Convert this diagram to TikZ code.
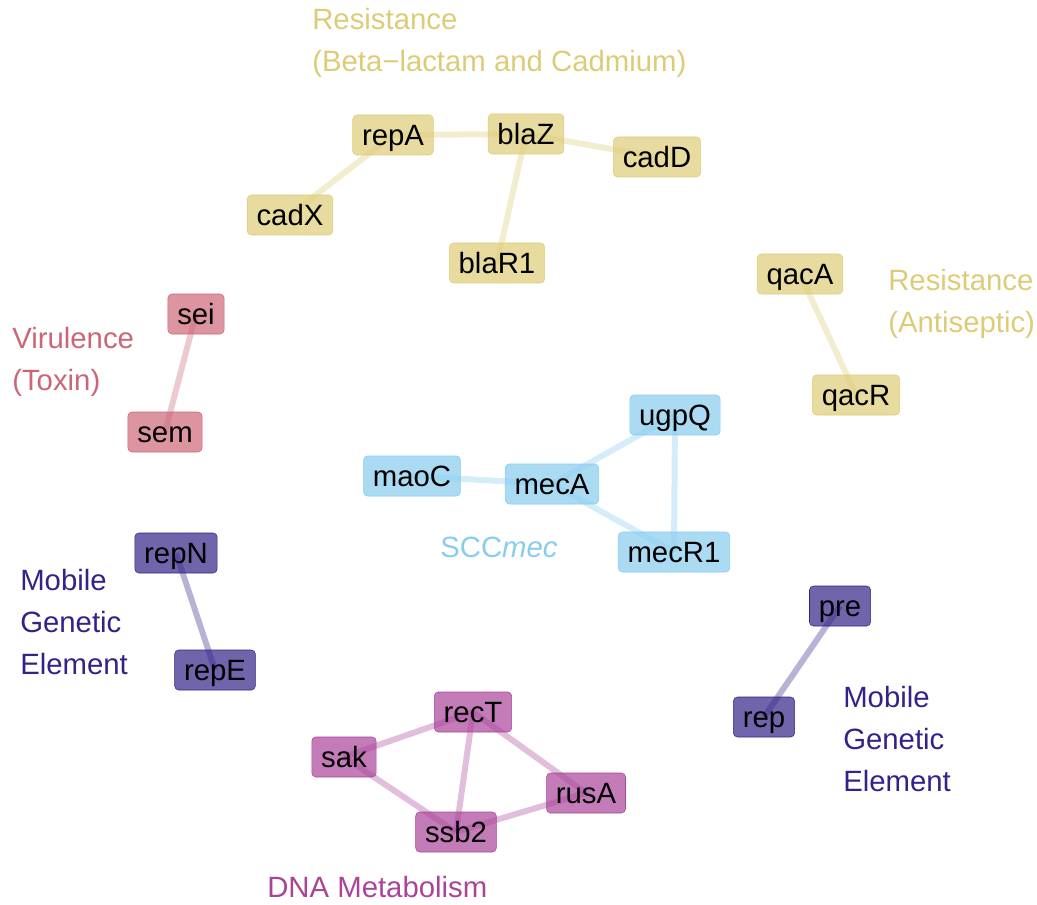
\documentclass[tikz,border=0pt]{standalone}
\usepackage{fontspec}
\setmainfont{Liberation Sans}
\setsansfont{Liberation Sans}
\usepackage{xcolor}
\definecolor{sandCol}{HTML}{DDCC77}
\definecolor{roseCol}{HTML}{CC6677}
\definecolor{cyanCol}{HTML}{88CCEE}
\definecolor{indigoCol}{HTML}{332288}
\definecolor{purpleCol}{HTML}{AA4499}
\usepackage{tikz}
\usetikzlibrary{backgrounds}
\tikzset{
    gene/.style={
        draw=#1,
        fill=#1,
        fill opacity=0.7,
        text opacity=1,
        rectangle,
        rounded corners=3pt,
        thin,
        minimum height=30pt,
        inner xsep=7pt,
        inner ysep=2pt,
        text height=17pt,
        text depth=1pt,
        font=\fontsize{22}{26}\selectfont,
        text=black
    },
    link/.style={
        line width=4.5pt,
        draw=#1,
        draw opacity=0.35
    },
    grouplabel/.style={
        anchor=base west,
        align=left,
        inner sep=0pt,
        text=#1,
        font=\fontsize{22}{31.5}\selectfont
    }
}

\begin{document}
\begin{tikzpicture}[x=0.75pt,y=-0.75pt]
    \useasboundingbox (0,0) rectangle (1037,905);

    % Resistance (Beta-lactam and Cadmium)
    \node[gene=sandCol] (repA) at (393,135) {repA};
    \node[gene=sandCol] (blaZ) at (526,134) {blaZ};
    \node[gene=sandCol] (cadD) at (657,157) {cadD};
    \node[gene=sandCol] (cadX) at (290,215) {cadX};
    \node[gene=sandCol] (blaR1) at (497,263) {blaR1};
    \node[grouplabel=sandCol] (lblBeta) at (312,72) {Resistance\\(Beta−lactam and Cadmium)};

    % Resistance (Antiseptic)
    \node[gene=sandCol] (qacA) at (800,274) {qacA};
    \node[gene=sandCol] (qacR) at (856,395) {qacR};
    \node[grouplabel=sandCol] (lblAnti) at (888,332) {Resistance\\(Antiseptic)};

    % Virulence (Toxin)
    \node[gene=roseCol] (sei) at (196,314) {sei};
    \node[gene=roseCol] (sem) at (165,432) {sem};
    \node[grouplabel=roseCol] (lblTox) at (12,390) {Virulence\\(Toxin)};

    % SCCmec
    \node[gene=cyanCol] (ugpQ) at (675,415) {ugpQ};
    \node[gene=cyanCol] (maoC) at (412,476) {maoC};
    \node[gene=cyanCol] (mecA) at (552,484) {mecA};
    \node[gene=cyanCol] (mecR1) at (674,552) {mecR1};
    \node[grouplabel=cyanCol] (lblScc) at (440,557) {SCC\textit{mec}};

    % Mobile genetic elements
    \node[gene=indigoCol] (repN) at (176,553) {repN};
    \node[gene=indigoCol] (repE) at (215,670) {repE};
    \node[grouplabel=indigoCol] (lblMgeA) at (20,674) {Mobile\\Genetic\\Element};
    \node[gene=indigoCol] (pre) at (840,606) {pre};
    \node[gene=indigoCol] (rep) at (764,717) {rep};
    \node[grouplabel=indigoCol] (lblMgeB) at (843,791) {Mobile\\Genetic\\Element};

    % DNA metabolism
    \node[gene=purpleCol] (recT) at (473,712) {recT};
    \node[gene=purpleCol] (sak) at (344,757) {sak};
    \node[gene=purpleCol] (rusA) at (586,793) {rusA};
    \node[gene=purpleCol] (ssb2) at (456,832) {ssb2};
    \node[grouplabel=purpleCol] (lblDna) at (267,897) {DNA Metabolism};

    \begin{scope}[on background layer]
        \foreach \a/\b in {repA/blaZ, repA/cadX, blaZ/cadD, blaZ/blaR1, qacA/qacR}
            \draw[link=sandCol] (\a.center) -- (\b.center);
        \draw[link=roseCol] (sei.center) -- (sem.center);
        \foreach \a/\b in {maoC/mecA, mecA/ugpQ, mecA/mecR1, ugpQ/mecR1}
            \draw[link=cyanCol] (\a.center) -- (\b.center);
        \draw[link=indigoCol] (repN.center) -- (repE.center);
        \draw[link=indigoCol] (pre.center) -- (rep.center);
        \foreach \a/\b in {recT/sak, recT/ssb2, recT/rusA, sak/ssb2, ssb2/rusA}
            \draw[link=purpleCol] (\a.center) -- (\b.center);
    \end{scope}
\end{tikzpicture}
\end{document}
